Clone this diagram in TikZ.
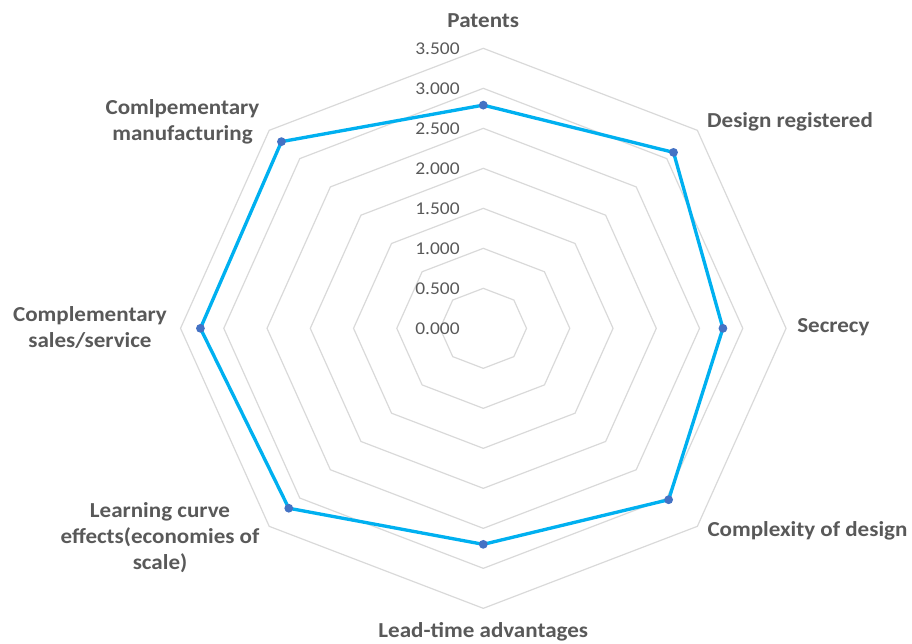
\documentclass[tikz,border=0pt]{standalone}
\usepackage{fontspec}
\setmainfont{Carlito}[FakeStretch=1.08]
\usepackage{tikz}
\definecolor{gridgray}{HTML}{D9D9D9}
\definecolor{textgray}{HTML}{595959}
\definecolor{lineblue}{HTML}{00B0F0}
\definecolor{dotblue}{HTML}{4472C4}
\tikzset{
  ring/.style={draw=gridgray, line width=0.9pt},
  series/.style={draw=lineblue, line width=2.5pt, line join=round},
  cat/.style={text=textgray, font=\bfseries\fontsize{16}{19.5}\selectfont, align=center, inner sep=0pt},
  tick/.style={text=textgray, font=\fontsize{13.5}{16}\selectfont, anchor=east, inner sep=0pt}
}

\begin{document}
\begin{tikzpicture}[x=64.875pt,y=60pt]
  \useasboundingbox (-5.587,-3.934) rectangle (4.956,4.104);
  % grid rings
  \foreach \r in {0.5,1,...,3.5}
    \draw[ring] (90:\r)--(45:\r)--(0:\r)--(-45:\r)--(-90:\r)--(-135:\r)--(180:\r)--(135:\r)--cycle;
  % scale labels
  \foreach \v/\t in {0/0.000,0.5/0.500,1/1.000,1.5/1.500,2/2.000,2.5/2.500,3/3.000,3.5/3.500}
    \node[tick] (t\v) at (-0.27,\v) {\t};

  % data points
  \coordinate (Pat) at (90:2.79);%Patents
  \coordinate (Des) at (45:3.11);%Design registered
  \coordinate (Sec) at (0:2.77);%Secrecy
  \coordinate (Com) at (-45:3.03);%Complexity of design
  \coordinate (Lea) at (-90:2.70);%Lead-time
  \coordinate (Lrn) at (-135:3.18);%Learning curve
  \coordinate (Sal) at (180:3.27);%sales/service
  \coordinate (Man) at (135:3.30);%manufacturing

  \draw[series] (Pat)--(Des)--(Sec)--(Com)--(Lea)--(Lrn)--(Sal)--(Man)--cycle;
  \foreach \p in {Pat,Des,Sec,Com,Lea,Lrn,Sal,Man}
    \fill[dotblue] (\p) circle (3.3pt);

  % category labels
  \node[cat] (patents) at (0,3.84) {Patents};
  \node[cat] (design) at (3.546,2.583) {Design registered};
  \node[cat, anchor=west] (secrecy) at (3.627,0.016) {Secrecy};
  \node[cat] (complex) at (3.748,-2.534) {Complexity of design};
  \node[cat] (lead) at (0,-3.796) {Lead-time advantages};
  \node[cat] (learn) at (-3.737,-2.62) {Learning curve\\effects(economies of\\scale)};
  \node[cat] (sales) at (-4.547,0.01) {Complementary\\sales/service};
  \node[cat] (manuf) at (-3.477,2.579) {Comlpementary\\manufacturing};
\end{tikzpicture}
\end{document}
